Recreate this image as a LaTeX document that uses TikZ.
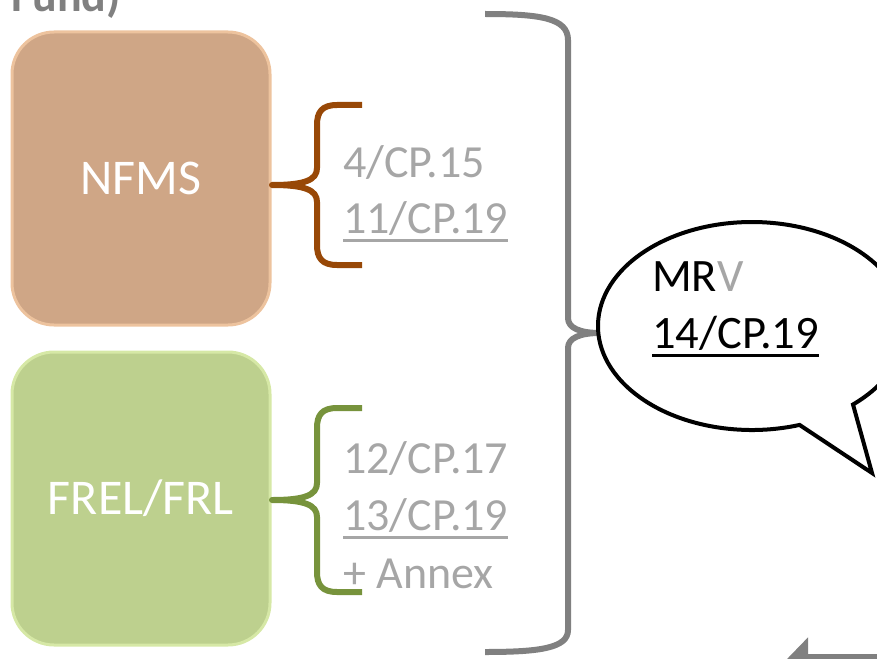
\documentclass[tikz,border=0pt]{standalone}
\usepackage{fontspec}
\setmainfont{Carlito}
\usetikzlibrary{arrows.meta}

\definecolor{nfmsfill}{HTML}{CFA686}
\definecolor{nfmsedge}{HTML}{EDC39E}
\definecolor{frelfill}{HTML}{BDD08E}
\definecolor{freledge}{HTML}{D6E8A6}
\definecolor{nfmsbrace}{HTML}{984807}
\definecolor{frelbrace}{HTML}{77933C}
\definecolor{listgray}{HTML}{A6A6A6}
\definecolor{darkgray}{HTML}{808080}

% thick underline at a fixed depth
\newcommand{\uln}[1]{\setbox0\hbox{#1}\rlap{\rule[-9pt]{\wd0}{3pt}}\box0}

\begin{document}
\begin{tikzpicture}[
  x=1pt, y=-1pt,
  box/.style={draw, line width=3pt, rounded corners=42pt, minimum width=258pt,
    minimum height=293pt, text=white, font=\fontsize{50}{60}\selectfont},
  lst/.style={anchor=base west, inner sep=0pt, text=listgray,
    font=\fontsize{46}{55}\selectfont},
  mrv/.style={anchor=base west, inner sep=0pt, font=\fontsize{46.5}{55}\selectfont},
  brace/.style={line width=6pt, line join=round},
]
  \useasboundingbox (0,0) rectangle (877,658);
  \clip (0,0) rectangle (877,658);

  \node[anchor=base west, inner sep=0pt, text=darkgray,
    font=\bfseries\fontsize{46}{55}\selectfont] (fund) at (11,12) {Fund)};

  \node[box, fill=nfmsfill, draw=nfmsedge] (nfms) at (141,178.5) {NFMS};
  \node[box, fill=frelfill, draw=freledge] (frel) at (141,498.5) {FREL/FRL};

  % small braces
  \draw[brace, nfmsbrace] (362,105) -- (337,105)
    .. controls (322,105) and (317,112) .. (317,125) -- (317,168)
    .. controls (317,180) and (305,185) .. (272,185)
    .. controls (305,185) and (317,190) .. (317,202) -- (317,245)
    .. controls (317,258) and (322,265) .. (337,265) -- (362,265);
  \draw[brace, frelbrace] (362,408) -- (337,408)
    .. controls (322,408) and (317,415) .. (317,428) -- (317,483)
    .. controls (317,495) and (305,500) .. (272,500)
    .. controls (305,500) and (317,505) .. (317,517) -- (317,572)
    .. controls (317,585) and (322,592) .. (337,592) -- (362,592);

  \node[lst] (cp15) at (343,177) {4/CP.15};
  \node[lst] (cp19a) at (343,233) {\uln{11/CP.19}};
  \node[lst] (cp17) at (343,473) {12/CP.17};
  \node[lst] (cp19b) at (343,530) {\uln{13/CP.19}};
  \node[lst] (annex) at (343,588) {+ Annex};

  % big brace
  \draw[brace, darkgray] (485,14)
    .. controls (540,14) and (568,18) .. (568,40) -- (568,318)
    .. controls (568,328) and (580,333) .. (600,333)
    .. controls (580,333) and (568,338) .. (568,348) -- (568,630)
    .. controls (568,648) and (540,652) .. (485,652);

  % speech bubble
  \draw[line width=4pt, line join=miter, fill=white] (853,404.5)
    arc[start angle=49, end angle=-288, x radius=154, y radius=104]
    -- (872,473) -- cycle;
  \node[mrv] (mrv) at (652,291) {MR\textcolor{listgray}{V}};
  \node[mrv] (cp19c) at (652,348) {\uln{14/CP.19}};

  \coordinate (arrfrom) at (890,660);
  \coordinate (arrto) at (786,660);
  \draw[line width=12pt, darkgray, -{Triangle[length=22pt, width=44pt]}]
    (arrfrom) -- (arrto);
\end{tikzpicture}
\end{document}
